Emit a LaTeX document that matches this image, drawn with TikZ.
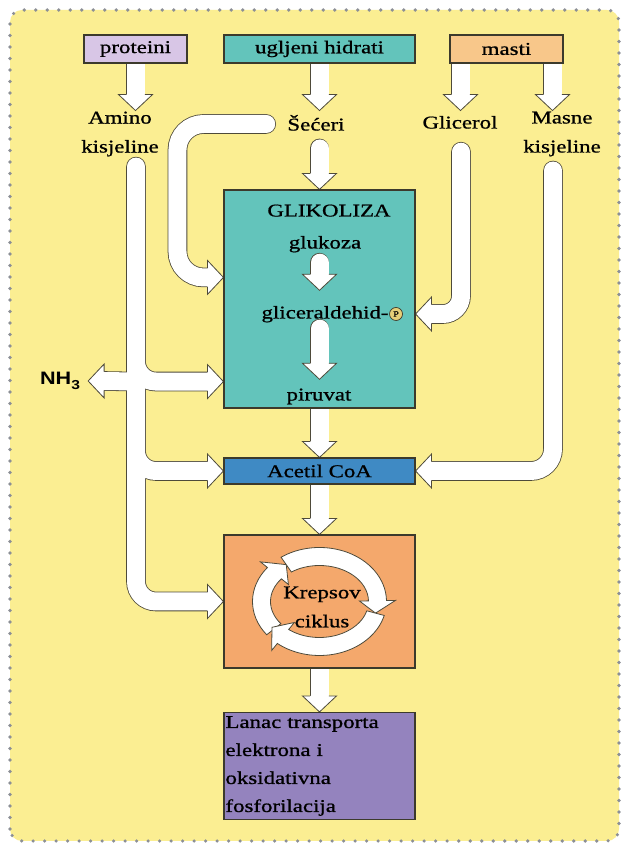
\documentclass[tikz,border=0pt]{standalone}
\usepackage{fontspec}
\setmainfont{Liberation Serif}[FakeStretch=1.27, FakeBold=0.9]
\newfontfamily\nhfont{Liberation Sans}[FakeStretch=1.2]
\usepackage{tikz}
\usetikzlibrary{calc,positioning}
\definecolor{paneyellow}{HTML}{FBEE92}
\definecolor{dotgray}{HTML}{8C8F96}
\definecolor{boxline}{HTML}{3C3A2C}
\definecolor{pipeline}{HTML}{4E4A3A}
\definecolor{protlilac}{HTML}{D8C6E6}
\definecolor{sugarteal}{HTML}{63C4BB}
\definecolor{fatorange}{HTML}{F8C78A}
\definecolor{acetylblue}{HTML}{3F8AC4}
\definecolor{krebsorange}{HTML}{F4A86C}
\definecolor{etcpurple}{HTML}{9483BE}
\definecolor{pyellow}{HTML}{E6CF78}

\pgfdeclarelayer{panel}
\pgfdeclarelayer{pipes}
\pgfsetlayers{panel,pipes,main}

% one white segment of the Krebs ring: start angle, head base angle, tip angle
\newcommand{\cyclearc}[3]{%
  \filldraw[ringarrow] (#1:67 and 54) arc[start angle=#1, end angle=#2, x radius=67, y radius=54]
    -- (#2:76 and 63) -- (#3:58 and 45) -- (#2:40 and 27)
    -- (#2:49 and 36) arc[start angle=#2, end angle=#1, x radius=49, y radius=36] -- cycle;}

\begin{document}
\begin{tikzpicture}[
  x=1pt, y=1pt,
  font=\fontsize{18}{29}\selectfont,
  srcbox/.style={
    rectangle,
    draw=boxline,
    line width=1.1pt,
    minimum height=28pt,
    inner sep=0pt
  },
  stagebox/.style={
    rectangle,
    draw=boxline,
    line width=1.1pt,
    minimum width=191pt,
    inner sep=0pt
  },
  txt/.style={inner sep=0pt, text height=13pt, text depth=4pt},
  txtml/.style={inner sep=0pt, align=center},
  pmark/.style={
    circle,
    draw=boxline,
    line width=0.7pt,
    fill=pyellow,
    inner sep=0.5pt,
    minimum size=13pt,
    font=\fontsize{8}{8}\selectfont
  },
  pipe/.style={draw=pipeline, line width=0.8pt, double=white, double distance=18pt, line cap=round},
  headfill/.style={draw=pipeline, fill=white, line width=0.8pt, line join=miter},
  ringarrow/.style={draw=pipeline, fill=white, line width=0.8pt, line join=miter},
  bhead/.pic={\filldraw[headfill] (-16,-9.4) -- (-16,-17) -- (0,0) -- (-16,17) -- (-16,9.4);}
]
\useasboundingbox (0,0) rectangle (622,843);
\begin{pgfonlayer}{panel}
\draw[fill=paneyellow, draw=dotgray, line width=3.6pt, line cap=round,
  dash pattern=on 0pt off 11.5pt, rounded corners=12pt] (10,2) rectangle (619,833);
\end{pgfonlayer}

% sources
\node[srcbox, fill=protlilac, minimum width=103pt] (prot) at (135.5,794) {proteini};
\node[srcbox, fill=sugarteal, minimum width=191pt] (ugl) at (319.5,794) {ugljeni hidrati};
\node[srcbox, fill=fatorange, minimum width=113pt] (masti) at (506.5,794) {masti};

\node[txtml] (amino) at (120,709) {Amino\\kisjeline};
\node[txt] (seceri) at (316,717) {Šećeri};
\node[txt] (glicerol) at (460,719) {Glicerol};
\node[txtml] (masne) at (562,709) {Masne\\kisjeline};

% glycolysis
\node[stagebox, fill=sugarteal, minimum height=218pt] (glik) at (319.5,544) {};
\node[txt] (glhead) at (329,631) {GLIKOLIZA};
\node[txt] (gluk) at (325,599) {glukoza};
\node[txt] (gald) at (325,529) {gliceraldehid-};
\node[pmark, right=0.5pt of gald] (pgrp) {P};
\node[txt] (piru) at (319,447) {piruvat};

\node[stagebox, fill=acetylblue, minimum height=26pt] (acetil) at (319.5,372) {Acetil CoA};
\node[stagebox, fill=krebsorange, minimum height=133pt] (krebs) at (319.5,241.5) {};
\node[stagebox, fill=etcpurple, minimum height=107pt, align=left, text width=188pt,
  font=\fontsize{18}{28}\selectfont] (lanac) at (319.5,77) {Lanac transporta\\elektrona i\\oksidativna\\fosforilacija};

\node[font=\nhfont\bfseries\fontsize{18}{20}\selectfont, inner ysep=0pt, inner xsep=8pt] (nh3) at (60,462)
  {NH\raisebox{-5pt}{\fontsize{13}{13}\selectfont 3}};

\coordinate (gin1) at ($(glik.north west)+(0,-88)$);
\coordinate (gin2) at ($(glik.south west)+(0,27)$);
\coordinate (gin3) at (glik.east |- gald);
\coordinate (atop) at ($(amino.south)+(16,-10)$);
\coordinate (gtop) at ($(glicerol.south)+(1,-19)$);
\coordinate (mtop) at ($(masne.south)+(-9,-14)$);

\begin{pgfonlayer}{pipes}
\draw[pipe] (prot.south) -- ++(0,-31);
\pic[rotate=-90] at ($(prot.south)+(0,-47)$) {bhead};
\draw[pipe] (ugl.south) -- ++(0,-31);
\pic[rotate=-90] at ($(ugl.south)+(0,-47)$) {bhead};
\draw[pipe] ($(masti.south)+(-46,0)$) -- ++(0,-31);
\pic[rotate=-90] at ($(masti.south)+(-46,-47)$) {bhead};
\draw[pipe] ($(masti.south)+(46,0)$) -- ++(0,-31);
\pic[rotate=-90] at ($(masti.south)+(46,-47)$) {bhead};

\draw[pipe] ($(glik.north)+(0,41)$) -- ($(glik.north)+(0,16)$);
\pic[rotate=-90] at (glik.north) {bhead};
\draw[pipe] (glik.south) -- ($(acetil.north)+(0,16)$);
\pic[rotate=-90] at (acetil.north) {bhead};
\draw[pipe] (acetil.south) -- ($(krebs.north)+(0,16)$);
\pic[rotate=-90] at (krebs.north) {bhead};
\draw[pipe] (krebs.south) -- ($(lanac.north)+(0,16)$);
\pic[rotate=-90] at (lanac.north) {bhead};

% side routes
\draw[pipe, rounded corners=26pt] ($(seceri.west)+(-21,2)$) -| ($(gin1)+(-46,0)$) -- ($(gin1)+(-16,0)$);
\pic at (gin1) {bhead};
\draw[pipe, rounded corners=20pt] (atop) |- ($(krebs.west)+(-16,0)$)
  (atop |- glik.center) |- ($(gin2)+(-16,0)$)
  (atop |- glik.south) |- ($(acetil.west)+(-16,0)$)
  ($(nh3.east)+(16,0)$) -- (atop |- gin2);
\pic at (gin2) {bhead};
\pic[rotate=180] at (nh3.east) {bhead};
\pic at (acetil.west) {bhead};
\pic at (krebs.west) {bhead};
\draw[pipe, rounded corners=18pt] (gtop) |- ($(gin3)+(16,0)$);
\pic[rotate=180] at (gin3) {bhead};
\draw[pipe, rounded corners=22pt] (mtop) |- ($(acetil.east)+(16,0)$);
\pic[rotate=180] at (acetil.east) {bhead};
\end{pgfonlayer}

% inside glycolysis
\draw[pipe] ($(glik |- gluk.south)+(0,-10)$) -- ($(glik |- gald.north)+(0,31)$);
\pic[rotate=-90] at ($(glik |- gald.north)+(0,15)$) {bhead};
\draw[pipe] ($(glik |- gald.south)+(0,-6)$) -- ($(glik |- piru.north)+(0,24)$);
\pic[rotate=-90] at ($(glik |- piru.north)+(0,8)$) {bhead};

% Krebs ring
\begin{scope}[shift={(krebs.center)}]
\cyclearc{218}{141}{125}
\cyclearc{125}{1}{-15}
\cyclearc{-15}{-129}{-145}
\end{scope}
\node[txtml] (krtxt) at (322,236) {Krepsov\\ciklus};

\end{tikzpicture}
\end{document}
